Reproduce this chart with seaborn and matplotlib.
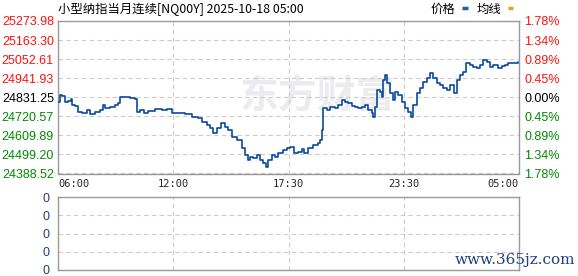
import matplotlib
matplotlib.use("Agg")
import matplotlib.pyplot as plt
import seaborn as sns
import pandas as pd

# ---------------- data ----------------
title_text = "小型纳指当月连续[NQ00Y] 2025-10-18 05:00"
legend_labels = ["价格", "均线"]
x_tick_labels = ["06:00", "12:00", "17:30", "23:30", "05:00"]
x_tick_minutes = [0, 345, 690, 1035, 1380]
price_ticks = [24388.52, 24499.20, 24609.89, 24720.57, 24831.25,
               24941.93, 25052.61, 25163.30, 25273.98]
price_labels = ["24388.52", "24499.20", "24609.89", "24720.57", "24831.25",
                "24941.93", "25052.61", "25163.30", "25273.98"]
pct_labels = ["1.78%", "1.34%", "0.89%", "0.45%", "0.00%",
              "0.45%", "0.89%", "1.34%", "1.78%"]
volume_labels = ["0", "0", "0", "0", "0"]

minutes = [1, 6, 13, 21, 31, 39, 43, 51, 61, 71, 86, 96, 111, 126, 136, 141,
           156, 171, 181, 186, 201, 216, 231, 236, 246, 256, 270, 290, 310,
           325, 340, 360, 380, 400, 420, 430, 445, 455, 465, 475, 488, 500,
           510, 520, 535, 550, 560, 568, 575, 585, 595, 605, 615, 622, 630,
           640, 650, 659, 674, 685, 695, 705, 719, 730, 737, 748, 763, 778,
           784, 790, 793, 805, 814, 829, 839, 849, 859, 869, 879, 889, 899,
           909, 919, 929, 939, 944, 949, 956, 964, 969, 974, 979, 986, 994,
           1002, 1009, 1019, 1029, 1039, 1049, 1057, 1064, 1074, 1084, 1094,
           1104, 1114, 1123, 1134, 1144, 1153, 1164, 1173, 1185, 1194, 1203,
           1213, 1221, 1233, 1243, 1253, 1263, 1273, 1283, 1293, 1303, 1318,
           1328, 1338, 1348, 1363, 1378]
prices = [24805, 24844, 24838, 24805, 24811, 24819, 24786, 24780, 24747,
          24742, 24757, 24734, 24747, 24757, 24786, 24767, 24776, 24786,
          24800, 24831, 24834, 24825, 24819, 24747, 24757, 24742, 24753,
          24761, 24757, 24761, 24742, 24738, 24732, 24718, 24709, 24689,
          24670, 24651, 24625, 24651, 24680, 24660, 24641, 24602, 24583,
          24535, 24496, 24467, 24486, 24477, 24496, 24467, 24448, 24428,
          24467, 24496, 24486, 24506, 24525, 24535, 24541, 24509, 24515,
          24529, 24506, 24537, 24554, 24566, 24583, 24641, 24767, 24757,
          24773, 24767, 24786, 24815, 24805, 24796, 24780, 24776, 24767,
          24773, 24786, 24757, 24738, 24718, 24776, 24873, 24864, 24834,
          24931, 24960, 24912, 24854, 24815, 24864, 24844, 24805, 24767,
          24747, 24718, 24786, 24854, 24883, 24922, 24941, 24970, 24941,
          24912, 24902, 24883, 24873, 24902, 24854, 24931, 24960, 24980,
          25028, 25019, 25009, 24999, 25019, 25048, 25038, 25009, 25019,
          24999, 25013, 25019, 25032, 25032, 25038]

df = pd.DataFrame({"minute": minutes, "price": prices})

# ---------------- style ----------------
sns.set_style("white")
plt.rcParams["font.family"] = ["Liberation Sans", "Noto Sans CJK SC", "DejaVu Sans"]

W, H = 578, 276
fig = plt.figure(figsize=(W / 100, H / 100), dpi=100)

def fx(px):
    return px / W

def fy(py):
    return 1 - py / H

L, R = 58, 519
main_top, main_bot = 21, 173.5
vol_top, vol_bot = 197, 270

ax = fig.add_axes([fx(L), fy(main_bot), fx(R - L), (main_bot - main_top) / H])
axv = fig.add_axes([fx(L), fy(vol_bot), fx(R - L), (vol_bot - vol_top) / H])

border = "#999999"
grid_c = "#cccccc"
dash = (0, (4, 3))
line_c = "#0a4a9f"
red, black, green = "#ff1010", "#000000", "#008a00"

# watermark
ax.text(0.395, 0.50, "东方财富", transform=ax.transAxes, fontsize=28,
        fontweight="bold", color="#ececf0", ha="left", va="center",
        family=["Noto Sans CJK SC"], zorder=0)

sns.lineplot(data=df, x="minute", y="price", ax=ax, color=line_c,
             linewidth=1.2, drawstyle="steps-post", zorder=3)

ax.set_xlim(x_tick_minutes[0], x_tick_minutes[-1])
ax.set_ylim(price_ticks[0], price_ticks[-1])
ax.set_xlabel("")
ax.set_ylabel("")
ax.set_yticks(price_ticks)
ax.set_yticklabels(price_labels, fontsize=9)
ncenter = len(price_ticks) // 2
for i, t in enumerate(ax.get_yticklabels()):
    t.set_color(green if i < ncenter else (black if i == ncenter else red))
ax.set_xticks(x_tick_minutes)
ax.set_xticklabels(x_tick_labels, fontsize=7.5, family="DejaVu Sans Mono")
xt = ax.get_xticklabels()
xt[0].set_ha("left")
xt[-1].set_ha("right")
ax.tick_params(axis="both", length=0, pad=3)
ax.tick_params(axis="x", pad=4)
ax.grid(True, color=grid_c, linestyle=dash, linewidth=0.8)
for s in ax.spines.values():
    s.set_color(border)
    s.set_linewidth(1.0)

axr = ax.twinx()
axr.set_ylim(ax.get_ylim())
axr.set_yticks(price_ticks)
axr.set_yticklabels(pct_labels, fontsize=9)
for i, t in enumerate(axr.get_yticklabels()):
    t.set_color(green if i < ncenter else (black if i == ncenter else red))
axr.tick_params(axis="y", length=0, pad=4)
for s in axr.spines.values():
    s.set_visible(False)
axr.grid(False)

# volume panel
axv.set_xlim(x_tick_minutes[0], x_tick_minutes[-1])
axv.set_ylim(0, len(volume_labels) - 1)
axv.set_yticks(range(len(volume_labels)))
axv.set_yticklabels(volume_labels, fontsize=9, color="#1f3f7f")
axv.set_xticks(x_tick_minutes)
axv.set_xticklabels([])
axv.tick_params(axis="both", length=0, pad=6)
axv.grid(True, color=grid_c, linestyle=dash, linewidth=0.8)
for s in axv.spines.values():
    s.set_color(border)
    s.set_linewidth(1.0)

# title and legend
fig.text(fx(58), fy(9), title_text, fontsize=8.9, ha="left", va="center",
         family=["Noto Sans CJK SC"], color="#000000")
fig.text(fx(431), fy(9), legend_labels[0], fontsize=8.9, ha="left", va="center",
         family=["Noto Sans CJK SC"], color="#000000")
fig.add_artist(plt.Line2D([fx(462), fx(468)], [fy(8), fy(8)], color="#1f5fae",
                          linewidth=2.5, solid_capstyle="butt"))
fig.text(fx(477), fy(9), legend_labels[1], fontsize=8.9, ha="left", va="center",
         family=["Noto Sans CJK SC"], color="#000000")
fig.add_artist(plt.Line2D([fx(508), fx(513)], [fy(8), fy(8)], color="#e0a526",
                          linewidth=2.5, solid_capstyle="butt"))

# site watermark
fig.text(fx(455), fy(260), "www.365jz.com", fontsize=11, ha="left",
         va="center", family="DejaVu Serif", color="#1f3f7f")

fig.savefig("out.png", dpi=100)
